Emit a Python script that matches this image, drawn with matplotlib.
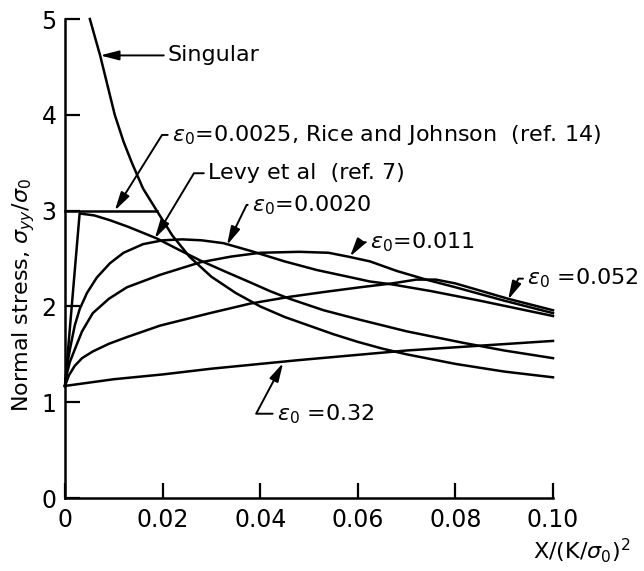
import matplotlib
matplotlib.use("Agg")
import matplotlib.pyplot as plt

plt.rcParams["font.family"] = ["DejaVu Sans"]
plt.rcParams["mathtext.fontset"] = "dejavusans"

# valores (x = X/(K/sigma0)^2, y = sigma_yy/sigma0)
singular_x = [0.0051, 0.0062, 0.0072, 0.0087, 0.0102, 0.012, 0.0137, 0.016, 0.0188, 0.022, 0.0255, 0.030,
              0.035, 0.040, 0.045, 0.050, 0.055, 0.060, 0.065, 0.070, 0.075, 0.080, 0.085, 0.090, 0.095, 0.100]
singular_y = [5.00, 4.80, 4.62, 4.31, 4.00, 3.72, 3.50, 3.23, 3.00, 2.74, 2.52, 2.31,
              2.14, 2.00, 1.89, 1.80, 1.71, 1.63, 1.56, 1.50, 1.45, 1.40, 1.36, 1.32, 1.29, 1.26]

rice_x = [0.0, 0.0188]
rice_y = [3.0, 3.0]

levy_x = [0.0, 0.003, 0.006, 0.0092, 0.013, 0.0188, 0.023, 0.0277, 0.033, 0.038, 0.042, 0.046,
          0.053, 0.0605, 0.070, 0.0816, 0.090, 0.100]
levy_y = [1.17, 2.97, 2.95, 2.90, 2.83, 2.71, 2.60, 2.48, 2.36, 2.25, 2.16, 2.08,
          1.96, 1.86, 1.74, 1.62, 1.54, 1.46]

e0020_x = [0.0, 0.0004, 0.001, 0.002, 0.003, 0.0045, 0.0065, 0.0092, 0.012, 0.016, 0.020, 0.024,
           0.028, 0.0325, 0.038, 0.045, 0.0516, 0.058, 0.0625, 0.067, 0.075, 0.085, 0.100]
e0020_y = [1.17, 1.37, 1.55, 1.80, 1.97, 2.14, 2.30, 2.45, 2.56, 2.65, 2.69, 2.70,
           2.69, 2.66, 2.58, 2.47, 2.38, 2.31, 2.26, 2.23, 2.16, 2.06, 1.90]

e011_x = [0.0, 0.0004, 0.001, 0.002, 0.0035, 0.0057, 0.009, 0.0127, 0.0195, 0.0277, 0.034, 0.040,
          0.048, 0.054, 0.058, 0.0625, 0.068, 0.074, 0.080, 0.090, 0.100]
e011_y = [1.17, 1.30, 1.42, 1.55, 1.74, 1.93, 2.08, 2.20, 2.33, 2.46, 2.52, 2.56,
          2.57, 2.56, 2.52, 2.47, 2.37, 2.28, 2.20, 2.06, 1.93]

e052_x = [0.0, 0.0008, 0.002, 0.0035, 0.0057, 0.009, 0.0127, 0.0195, 0.025, 0.0297, 0.038, 0.046,
          0.053, 0.0605, 0.067, 0.072, 0.076, 0.080, 0.0908, 0.100]
e052_y = [1.17, 1.28, 1.38, 1.46, 1.53, 1.61, 1.68, 1.80, 1.87, 1.93, 2.03, 2.10,
          2.15, 2.20, 2.24, 2.28, 2.28, 2.24, 2.08, 1.96]

e32_x = [0.0, 0.010, 0.020, 0.030, 0.048, 0.070, 0.100]
e32_y = [1.17, 1.24, 1.29, 1.35, 1.44, 1.54, 1.64]

xticks = [0, 0.02, 0.04, 0.06, 0.08, 0.10]
xtick_labels = ["0", "0.02", "0.04", "0.06", "0.08", "0.10"]
yticks = [0, 1, 2, 3, 4, 5]

TAM = 16


def seta(ax, texto, ponta, pos_texto, angulo):
    ax.annotate(texto, xy=ponta, xytext=pos_texto, ha="left", va="center", fontsize=TAM,
                annotation_clip=False,
                arrowprops=dict(arrowstyle="-|>,head_length=0.7,head_width=0.18", color="black", lw=1.4,
                                relpos=(0, 0.5), shrinkA=1, shrinkB=0,
                                connectionstyle=f"angle,angleA=0,angleB={angulo},rad=0"))


fig = plt.figure(figsize=(6.44, 5.71), dpi=100)
ax = fig.add_axes([0.1009, 0.1278, 0.7578, 0.8389])

for xs, ys in [(singular_x, singular_y), (rice_x, rice_y), (levy_x, levy_y), (e0020_x, e0020_y),
               (e011_x, e011_y), (e052_x, e052_y), (e32_x, e32_y)]:
    ax.plot(xs, ys, color="black", lw=1.8, solid_joinstyle="round", clip_on=False)

ax.set_xlim(0, 0.10)
ax.set_ylim(0, 5)
ax.spines["top"].set_visible(False)
ax.spines["right"].set_visible(False)
ax.spines["left"].set_linewidth(1.8)
ax.spines["bottom"].set_linewidth(1.8)
ax.set_xticks(xticks)
ax.set_xticklabels(xtick_labels)
ax.set_yticks(yticks)
ax.tick_params(axis="both", direction="in", length=11, width=1.6, labelsize=17, color="black")
ax.tick_params(axis="x", pad=7)
ax.tick_params(axis="y", pad=6)

ax.annotate("Singular", xy=(0.0072, 4.62), xytext=(0.0211, 4.62), ha="left", va="center", fontsize=TAM,
            arrowprops=dict(arrowstyle="-|>,head_length=0.7,head_width=0.18", color="black", lw=1.4,
                            shrinkA=1, shrinkB=0))
seta(ax, r"$\epsilon_0$=0.0025, Rice and Johnson  (ref. 14)", (0.0102, 3.0), (0.0219, 3.79), 58)
seta(ax, "Levy et al  (ref. 7)", (0.0184, 2.71), (0.0293, 3.39), 59)
seta(ax, r"$\epsilon_0$=0.0020", (0.0332, 2.64), (0.0383, 3.06), 64)
seta(ax, r"$\epsilon_0$=0.011", (0.0584, 2.52), (0.0625, 2.67), 55)
seta(ax, r"$\epsilon_0$ =0.052", (0.0908, 2.07), (0.0947, 2.29), 64)
seta(ax, r"$\epsilon_0$ =0.32", (0.0447, 1.41), (0.0434, 0.88), 62)

fig.text(0.036, 0.483, r"Normal stress, $\sigma_{yy}/\sigma_0$", rotation=90, ha="center", va="center", fontsize=TAM)
fig.text(0.827, 0.036, r"X/(K/$\sigma_0$)$^2$", ha="left", va="center", fontsize=TAM)

fig.savefig("out.png", dpi=100)
